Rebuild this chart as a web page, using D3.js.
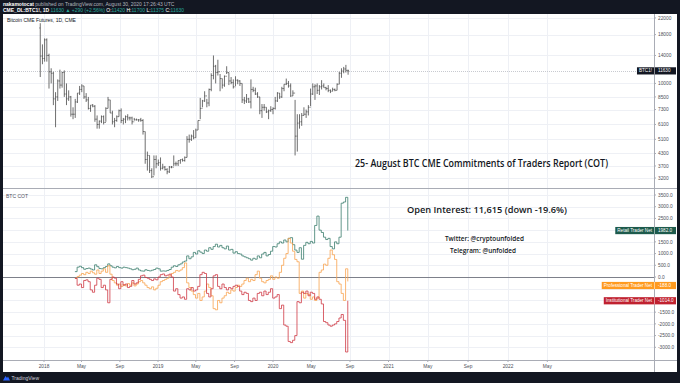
<!DOCTYPE html>
<html><head><meta charset="utf-8">
<script src="https://cdn.jsdelivr.net/npm/d3@7"></script>
<style>body{margin:0;background:#131722;}svg{display:block}</style>
</head><body><svg id="c" width="680" height="383"></svg>
<script>
// ---------- DATA ----------
// Weekly BTC1! bars (week starting Monday), first week 2017-12-18
const priceStart = "2017-12-18";
const priceFirstOpen = 19500;
const priceHigh = [
 20650,16000,
 17200,17200,14300,12000,11500, 9000,10500,11800,11500, 11700,10000,9200,8600,
 7500,8300,8900,9700,9900, 9700,8900,8500,7700, 7800,7700,6800,6400,
 6800,6800,7500,8500,8200, 7200,6600,6800,7300, 7400,6600,6800,6900,
 6700,6700,6600,6550,6500, 6600,6500,5600,4400, 4200,3600,4200,4200,4000,
 4100,3800,3700,3600, 3700,3700,4200,3900, 3950,4000,4050,4150,
 5300,5400,5400,5700,5800, 6400,8400,8200,9100, 8300,9400,11300,14000,
 12500,13300,11200,10600,11000, 12300,11400,10800,10500, 10900,10500,10400,10000,8500,
 8800,8400,10500,9600, 9500,9000,8500,7800, 7800,7500,7300,7600,7500,
 8500,9000,8900,9600, 9900,10600,10300,10000, 9200,8200,6900,6900,7000,
 7500,7300,7700,9400, 10000,9900,10000,9800, 10400,10000,9600,9800,9300,
 9500,9400,10000,11500, 12000,12200,12500,11800
];
const priceLow = [
 10800,12600,
 13000,13000,9400,10000,7700, 5900,8100,9400,9500, 8500,7700,8100,6700,
 6500,6600,7900,8700,9000, 8300,8000,7300,7100, 7500,6300,5800,5800,
 6200,6100,6300,7400,7000, 6100,5900,6300,6700, 6200,6100,6200,6400,
 6400,6100,6400,6400,6300, 6300,5400,3800,3500, 3400,3200,3300,3600,3700,
 3500,3550,3500,3350, 3400,3600,3700,3700, 3700,3800,3900,3900,
 4100,4900,5000,5100,5200, 5700,6500,7500,8000, 7500,7600,9100,10500,
 10000,11000,9100,9400,9600, 11200,9800,9900,9400, 9700,9900,9700,7900,7800,
 7900,7900,7400,9000, 8700,8400,6900,6600, 7200,7000,6500,7100,6900,
 7300,8000,8300,8400, 9100,9800,9500,8500, 8600,4200,4400,5800,6000,
 6800,6600,6800,7600, 8700,8200,8800,8700, 9300,9500,9200,9000,8900,
 9100,9100,9200,9900, 10700,11300,11400,11100
];
const priceClose = [
 13900,13500,
 16900,14000,11500,11300,8300, 8500,10300,9800,11400, 8800,8300,8500,6900,
 6900,8000,8900,9300,9700, 8500,8200,7400,7700, 7600,6500,6100,6350,
 6700,6250,7400,8200,7000, 6300,6400,6700,7200, 6400,6500,6700,6600,
 6600,6300,6450,6450,6450, 6400,5600,4000,4200, 3500,3250,4000,3800,3850,
 3600,3650,3550,3450, 3650,3650,3800,3800, 3950,4000,3950,4100,
 5100,5100,5300,5200,5700, 6400,7400,8100,8600, 7900,9300,11000,12300,
 11400,11500,10600,9800,10900, 11400,10300,10100,9600, 10400,10300,10000,8200,8100,
 8300,8000,9300,9200, 8800,8500,7200,7500, 7500,7100,7200,7300,7400,
 8100,8900,8500,9400, 9900,10000,9700,8600, 8900,5300,6200,6300,6800,
 6900,7100,7500,8800, 9600,9700,9200,9600, 9700,9500,9400,9200,9100,
 9300,9200,9900,11300, 11600,11900,11700,11630
];
const lastPrice = 11630;

// Weekly COT net positions, first report 2018-04-10
const cotStart = "2018-04-10";
const retailNet = [
 230,420,460,400,330,360,380,340,300,520,
 440,360,350,400,450,560,480,420,390,450,
 400,380,420,400,380,350,310,330,380,300,
 260,250,310,280,260,290,320,380,350,250,
 260,250,280,320,420,480,450,520,560,640,
 680,900,780,860,1050,980,1120,1060,1000,1150,
 1100,1250,1180,1300,1400,1280,1350,1250,1200,1320,
 1150,1180,1020,1080,1000,980,900,860,820,780,
 720,800,760,900,820,980,1050,900,960,1100,
 1300,1280,1420,1500,1450,1580,1500,1650,1680,1380,
 1150,1050,1250,760,1350,1480,1420,1520,1450,2200,
 2600,2000,1900,1700,1600,1650,1300,1200,1500,1420,
 1700,3150,3200,3400,1982
];
const professionalNet = [
 -60,20,80,150,100,200,150,250,180,120,
 300,150,250,350,200,480,120,-150,-250,-350,
 -300,-400,-320,-380,-280,-350,-250,-380,-300,-200,
 -150,-250,-350,-450,-500,-420,-550,-480,-350,-200,
 -150,-100,-50,50,150,200,280,250,300,400,
 600,-250,-450,-600,-750,-900,-700,-1000,-850,-600,
 -300,-450,-800,-1350,-1400,-1000,-1100,-900,-800,-650,
 -700,-550,-600,-450,-350,-400,-300,-150,-50,-200,
 -100,-150,100,250,-50,-200,-250,-150,-100,50,
 -100,0,-50,200,500,800,1000,1650,1450,1100,
 750,650,-700,-600,-900,-700,-750,-950,-850,-1000,
 -900,200,300,550,500,800,1150,950,750,-200,
 -300,-700,-1000,350,-188
];
const institutionalNet = [
 -60,-350,-300,-450,-150,-120,-200,-550,-650,-350,
 -50,-100,-450,-350,-550,-1100,-100,0,-50,-300,
 -500,-200,-350,-300,-450,-400,-150,-300,-250,-100,
 50,80,-20,-50,-100,-150,-80,-120,0,100,
 130,50,80,120,0,-600,-500,-750,-900,-850,
 -950,-500,-550,-450,-600,-550,-400,100,200,150,
 -700,-850,-500,50,100,-400,-500,-300,-450,-550,
 -450,-500,-400,-350,-400,-600,-750,-650,-700,-1000,
 -1050,-900,-1000,-700,-650,-800,-600,-750,-650,-500,
 -900,-850,-750,-1350,-1200,-2050,-2100,-2750,-2800,-2700,
 -2500,-1050,-1100,-650,-700,-600,-800,-650,-700,-950,
 -850,-950,-1150,-1900,-1950,-2050,-2100,-2050,-2000,-1900,
 -1750,-1600,-1850,-3200,-1014
];
const seriesNames = ["Retail Trader Net","Professional Trader Net","Institutional Trader Net"];
const seriesColors = ["#3e7f6f","#f9a552","#d03c47"];
const labelColors = ["#1d5a4c","#ff9a1f","#c0212f"];

const priceTicks = [22000,18000,14000,10000,8500,7300,6100,5100,4300,3700,3200];
const cotTicks = [3500,3000,2500,1500,1000,500,0,-1500,-2000,-2500,-3000];
const cotGrid = [3500,3000,2500,2000,1500,1000,500,0,-500,-1000,-1500,-2000,-2500,-3000];
const timeTickDates = ["2018-01-01","2018-05-01","2018-09-01","2019-01-01","2019-05-01","2019-09-01","2020-01-01","2020-05-01","2020-09-01","2021-01-01","2021-05-01","2021-09-01","2022-01-01","2022-05-01"];
const timeTickLabels = ["2018","May","Sep","2019","May","Sep","2020","May","Sep","2021","May","Sep","2022","May"];

// ---------- LAYOUT ----------
const svg = d3.select("#c");
const X0 = 3, AX = 654, XR = 677;
const T0 = 14, T1 = 188, B0 = 189, B1 = 360, FOOT = 372;
const parse = d3.timeParse("%Y-%m-%d");
const FONT = "'Liberation Sans', Arial, sans-serif";

const xS = d3.scaleTime()
  .domain(["2018-01-01","2019-01-01","2020-01-01","2021-01-01","2022-01-01"].map(parse))
  .range([44,158,273,388.5,508]);
const yP = d3.scaleLog().domain([2838, 23070]).range([T1, T0]);
const yC = d3.scaleLinear().domain([-3542, 3756]).range([B1, B0]);

// backgrounds
svg.append("rect").attr("width",680).attr("height",383).attr("fill","#131722");
svg.append("rect").attr("x",X0).attr("y",T0).attr("width",XR-X0).attr("height",FOOT-T0).attr("fill","#ffffff");

const grid = svg.append("g").attr("stroke","#eef0f5").attr("stroke-width",1);
timeTickDates.forEach(d => {
  const x = Math.round(xS(parse(d))) + 0.5;
  grid.append("line").attr("x1",x).attr("x2",x).attr("y1",T0).attr("y2",B1);
});
priceTicks.forEach(v => {
  const y = Math.round(yP(v)) + 0.5;
  grid.append("line").attr("x1",X0).attr("x2",AX).attr("y1",y).attr("y2",y);
});
cotGrid.forEach(v => {
  const y = Math.round(yC(v)) + 0.5;
  grid.append("line").attr("x1",X0).attr("x2",AX).attr("y1",y).attr("y2",y);
});

// current price line
svg.append("line").attr("x1",X0).attr("x2",AX)
  .attr("y1",Math.round(yP(lastPrice))+0.5).attr("y2",Math.round(yP(lastPrice))+0.5)
  .attr("stroke","#c8cad0").attr("stroke-dasharray","1,1");

// pane separators / axes
svg.append("line").attr("x1",X0).attr("x2",XR).attr("y1",T1+0.5).attr("y2",T1+0.5).attr("stroke","#a9acb5");
svg.append("line").attr("x1",X0).attr("x2",XR).attr("y1",B1+0.5).attr("y2",B1+0.5).attr("stroke","#a9acb5");
svg.append("line").attr("x1",AX+0.5).attr("x2",AX+0.5).attr("y1",T0).attr("y2",FOOT).attr("stroke","#a9acb5");

// zero line
svg.append("line").attr("x1",X0).attr("x2",AX).attr("y1",Math.round(yC(0))+0.5).attr("y2",Math.round(yC(0))+0.5)
  .attr("stroke","#7d808a");

// ---------- PRICE BARS ----------
const start = parse(priceStart);
const bars = svg.append("g").attr("stroke","#4a4a4a").attr("stroke-width",0.8);
priceHigh.forEach((h,i) => {
  const d = d3.timeDay.offset(start, 7*i + 2);
  const x = xS(d);
  const o = i === 0 ? priceFirstOpen : priceClose[i-1];
  bars.append("line").attr("x1",x).attr("x2",x).attr("y1",yP(h)).attr("y2",yP(priceLow[i]));
  bars.append("line").attr("x1",x-0.9).attr("x2",x).attr("y1",yP(o)).attr("y2",yP(o));
  bars.append("line").attr("x1",x).attr("x2",x+0.9).attr("y1",yP(priceClose[i])).attr("y2",yP(priceClose[i]));
});

// ---------- COT LINES ----------
const cStart = parse(cotStart);
const cotSeries = [retailNet, professionalNet, institutionalNet];
const line = d3.line()
  .x((v,i) => xS(d3.timeDay.offset(cStart, 7*i)))
  .y(v => yC(v))
  .curve(d3.curveStepAfter);
cotSeries.forEach((s,k) => {
  svg.append("path").attr("d", line(s)).attr("fill","none")
    .attr("stroke", seriesColors[k]).attr("stroke-width",0.9).attr("opacity",0.9);
});

// ---------- AXIS LABELS ----------
const axT = svg.append("g").attr("font-family",FONT).attr("font-size",4.8).attr("fill","#4c4f58");
priceTicks.forEach(v => {
  const y = yP(v);
  axT.append("line").attr("x1",AX).attr("x2",AX+2).attr("y1",y).attr("y2",y).attr("stroke","#a9acb5");
  axT.append("text").attr("x",AX+4).attr("y",y+1.7).text(v);
});
cotTicks.forEach(v => {
  const y = yC(v);
  axT.append("line").attr("x1",AX).attr("x2",AX+2).attr("y1",y).attr("y2",y).attr("stroke","#a9acb5");
  axT.append("text").attr("x",AX+4).attr("y",y+1.7).text(v.toFixed(1));
});
timeTickDates.forEach((d,i) => {
  const x = xS(parse(d));
  axT.append("line").attr("x1",x).attr("x2",x).attr("y1",B1).attr("y2",B1+2).attr("stroke","#a9acb5");
  axT.append("text").attr("x",x).attr("y",367.5).attr("text-anchor","middle").text(timeTickLabels[i]);
});

// value labels on axis
function axisLabel(y, name, value, bg) {
  const g = svg.append("g").attr("font-family",FONT).attr("font-size",4.6).attr("fill","#ffffff");
  const t = g.append("text").attr("x",AX-2).attr("y",y+1.6).attr("text-anchor","end").text(name);
  const w = t.node().getComputedTextLength();
  g.insert("rect","text").attr("x",AX-w-4).attr("y",y-3.6).attr("width",XR-1-(AX-w-4)).attr("height",7.2).attr("fill",bg);
  g.append("line").attr("x1",AX+0.5).attr("x2",AX+0.5).attr("y1",y-3.6).attr("y2",y+3.6).attr("stroke","#ffffff").attr("stroke-opacity",0.5);
  g.append("text").attr("x",AX+4).attr("y",y+1.6).text(value);
}
axisLabel(yP(lastPrice), "BTC1!", String(lastPrice), "#131722");
const lastVals = cotSeries.map(s => s[s.length-1]);
axisLabel(yC(lastVals[0]), seriesNames[0], lastVals[0].toFixed(1), labelColors[0]);
axisLabel(Math.max(yC(lastVals[1]), yC(0)+8.5), seriesNames[1], lastVals[1].toFixed(1), labelColors[1]);
axisLabel(yC(lastVals[2]), seriesNames[2], lastVals[2].toFixed(1), labelColors[2]);

// pane titles
svg.append("text").attr("x",7).attr("y",22).attr("font-family",FONT).attr("font-size",5).attr("fill","#131722")
  .text("Bitcoin CME Futures, 1D, CME");
svg.append("text").attr("x",6).attr("y",197.5).attr("font-family",FONT).attr("font-size",5).attr("fill","#50535e")
  .text("BTC COT");

// annotations
const ANN = "'Open Sans', 'DejaVu Sans', sans-serif";
svg.append("text").attr("x",481.5).attr("y",167).attr("text-anchor","middle").attr("font-family",ANN)
  .attr("font-weight",600).attr("font-size",10.5).attr("fill","#131722")
  .attr("textLength",253).attr("lengthAdjust","spacingAndGlyphs")
  .text("25- August BTC CME Commitments of Traders Report (COT)");
svg.append("text").attr("x",487).attr("y",212.5).attr("text-anchor","middle").attr("font-family",ANN)
  .attr("font-weight",600).attr("font-size",9.5).attr("fill","#131722")
  .attr("textLength",160).attr("lengthAdjust","spacingAndGlyphs")
  .text("Open Interest: 11,615 (down -19.6%)");
svg.append("text").attr("x",484.5).attr("y",240.5).attr("text-anchor","middle").attr("font-family",ANN)
  .attr("font-weight",600).attr("font-size",6.3).attr("fill","#131722")
  .attr("textLength",79).attr("lengthAdjust","spacingAndGlyphs")
  .text("Twitter: @cryptounfolded");
svg.append("text").attr("x",483).attr("y",253.2).attr("text-anchor","middle").attr("font-family",ANN)
  .attr("font-weight",600).attr("font-size",6.3).attr("fill","#131722")
  .attr("textLength",66).attr("lengthAdjust","spacingAndGlyphs")
  .text("Telegram: @unfolded");

// header
const h1 = svg.append("text").attr("x",3).attr("y",5.5).attr("font-family",FONT).attr("font-size",5).attr("fill","#b2b5be");
h1.append("tspan").attr("font-weight","bold").attr("fill","#ffffff").text("nakamotocat");
h1.append("tspan").text(" published on TradingView.com, August 30, 2020 17:26:43 UTC");
const h2 = svg.append("text").attr("x",3).attr("y",11.5).attr("font-family",FONT).attr("font-size",5).attr("fill","#26a69a");
h2.append("tspan").attr("font-weight","bold").attr("fill","#ffffff").text("CME_DL:BTC1!, 1D");
h2.append("tspan").text(" 11630 ▲ +290 (+2.56%) ");
h2.append("tspan").attr("fill","#ffffff").text("O:");
h2.append("tspan").text("11420 ");
h2.append("tspan").attr("fill","#ffffff").text("H:");
h2.append("tspan").text("11700 ");
h2.append("tspan").attr("fill","#ffffff").text("L:");
h2.append("tspan").text("11375 ");
h2.append("tspan").attr("fill","#ffffff").text("C:");
h2.append("tspan").text("11630");

// footer logo
svg.append("path").attr("d","M3,380.5 L5.5,376 L7,378 L8,376.5 L10,380.5 Z").attr("fill","#2962ff");
svg.append("text").attr("x",11.5).attr("y",380.3).attr("font-family",FONT).attr("font-size",5).attr("fill","#d1d4dc")
  .text("TradingView");
</script></body></html>
